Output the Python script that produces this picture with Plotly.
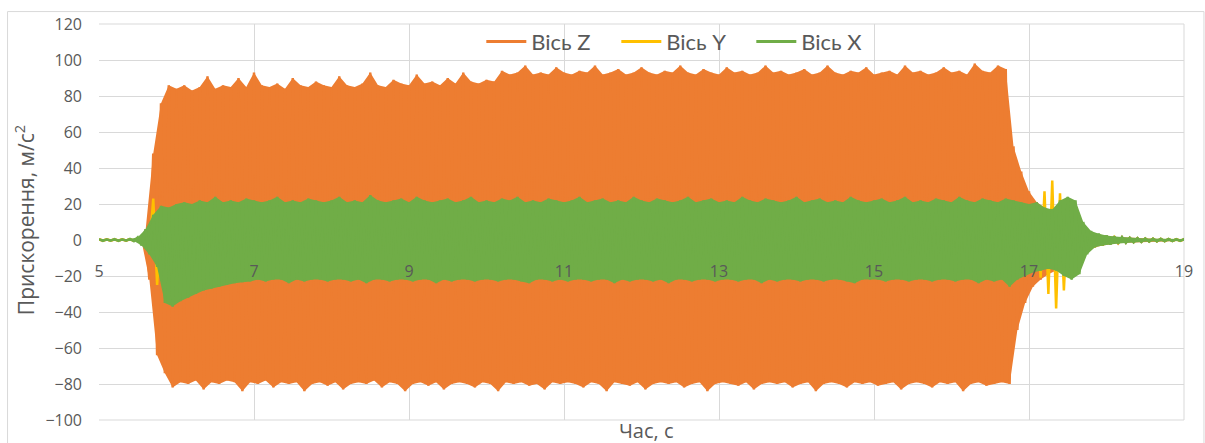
import numpy as np
import plotly.graph_objects as go

# Peak times of the vibration record, s (maxima every 0.1 s, minima half a cycle later)
t_max = np.round(np.linspace(5.0, 19.0, 141), 2)
t_min = np.round(t_max + 0.05, 2)

# Axis Z (orange): positive and negative peak accelerations, m/s^2
z_upper = [
    0.3, 0.3, 0.2, 0.3, 0.4, 0.6, 5, 48, 76, 86,
    84, 86, 83, 85, 91, 84, 86, 85, 90, 85,
    93, 86, 85, 87, 84, 90, 86, 85, 88, 86,
    85, 91, 86, 85, 87, 93, 86, 85, 89, 87,
    86, 92, 87, 88, 86, 90, 87, 93, 88, 87,
    89, 88, 94, 92, 93, 97, 92, 93, 92, 96,
    93, 92, 94, 93, 97, 92, 93, 95, 92, 93,
    96, 93, 92, 94, 93, 97, 93, 92, 95, 93,
    92, 96, 93, 94, 92, 93, 97, 93, 94, 92,
    93, 95, 92, 93, 97, 93, 92, 94, 93, 96,
    92, 93, 94, 92, 97, 93, 94, 92, 93, 96,
    93, 94, 92, 98, 94, 93, 97, 95, 52, 38,
    27, 21, 18, 16, 15, 15, 14, 8, 4, 3,
    2.2, 1.8, 1.5, 1.2, 1.0, 0.8, 0.7, 0.6, 0.5, 0.4,
    0.3,
]
z_lower = [
    -0.3, -0.3, -0.3, -0.2, -0.4, -0.8, -22, -64, -74, -82,
    -79, -80, -78, -83, -79, -80, -78, -79, -84, -79,
    -80, -78, -82, -79, -80, -79, -84, -80, -79, -81,
    -79, -83, -80, -79, -80, -78, -82, -79, -80, -84,
    -80, -79, -81, -79, -83, -80, -79, -80, -82, -79,
    -80, -84, -79, -80, -79, -81, -80, -83, -79, -80,
    -79, -80, -82, -79, -80, -84, -79, -80, -81, -79,
    -83, -80, -79, -80, -79, -82, -80, -79, -84, -80,
    -79, -80, -81, -79, -83, -80, -79, -80, -79, -82,
    -80, -79, -84, -80, -79, -80, -82, -79, -80, -79,
    -81, -80, -79, -83, -80, -79, -80, -82, -79, -80,
    -79, -84, -80, -79, -81, -80, -79, -80, -50, -35,
    -26, -22, -19, -17, -16, -15, -13, -7, -4, -3,
    -2.2, -1.8, -1.5, -1.2, -1.0, -0.8, -0.7, -0.6, -0.5, -0.4,
    -0.3,
]

# Axis Y (yellow)
y_upper = [
    0.3, 0.3, 0.3, 0.3, 0.4, 1, 5, 23, 13, 12,
    13, 11, 14, 12, 13, 11, 14, 12, 13, 12,
    14, 12, 13, 11, 14, 12, 13, 12, 14, 11,
    13, 12, 14, 11, 13, 12, 14, 12, 13, 11,
    13, 14, 12, 13, 11, 14, 12, 13, 12, 14,
    12, 13, 11, 14, 12, 13, 12, 14, 11, 13,
    14, 12, 13, 11, 14, 12, 13, 12, 14, 12,
    13, 11, 14, 12, 13, 12, 14, 11, 13, 12,
    14, 12, 13, 11, 14, 12, 13, 12, 14, 11,
    13, 12, 14, 12, 13, 11, 14, 12, 13, 12,
    14, 11, 13, 12, 14, 12, 13, 11, 14, 12,
    13, 12, 14, 11, 13, 12, 14, 13, 14, 14,
    14, 19, 27, 33, 26, 17, 11, 7, 4, 3,
    2, 1.6, 1.3, 1.1, 0.9, 0.8, 0.7, 0.6, 0.5, 0.4,
    0.3,
]
y_lower = [
    -0.3, -0.3, -0.3, -0.3, -0.4, -1, -6, -25, -14, -13,
    -12, -14, -11, -13, -12, -14, -11, -13, -12, -13,
    -11, -14, -12, -13, -12, -14, -11, -13, -12, -14,
    -12, -13, -11, -14, -12, -13, -12, -14, -11, -13,
    -14, -12, -13, -11, -14, -12, -13, -12, -14, -11,
    -13, -12, -14, -12, -13, -11, -14, -12, -13, -12,
    -12, -14, -11, -13, -12, -14, -12, -13, -11, -14,
    -13, -12, -14, -11, -13, -12, -14, -12, -13, -11,
    -12, -14, -11, -13, -12, -13, -11, -14, -12, -13,
    -14, -11, -13, -12, -14, -12, -13, -11, -13, -12,
    -12, -13, -11, -14, -12, -13, -12, -14, -11, -13,
    -13, -11, -14, -12, -13, -12, -14, -12, -14, -14,
    -14, -21, -30, -38, -28, -16, -10, -6, -4, -3,
    -2, -1.6, -1.3, -1.1, -0.9, -0.8, -0.7, -0.6, -0.5, -0.4,
    -0.3,
]

# Axis X (green)
x_upper = [
    0.5, 0.4, 0.5, 0.4, 0.6, 1.5, 6, 14, 19, 18,
    20, 21, 20, 22, 21, 24, 21, 22, 21, 23,
    22, 21, 22, 24, 21, 22, 21, 23, 22, 21,
    22, 24, 21, 22, 21, 25, 22, 21, 22, 23,
    21, 24, 22, 21, 22, 23, 21, 22, 24, 21,
    22, 21, 23, 22, 24, 21, 22, 21, 23, 22,
    21, 22, 24, 21, 22, 23, 21, 22, 21, 24,
    22, 21, 23, 22, 21, 22, 24, 21, 22, 23,
    21, 22, 21, 24, 22, 21, 23, 22, 21, 22,
    24, 21, 22, 23, 21, 22, 21, 24, 22, 21,
    22, 23, 21, 22, 24, 21, 22, 21, 23, 22,
    21, 24, 22, 21, 23, 22, 21, 23, 22, 21,
    20, 21, 18, 17, 22, 24, 22, 10, 5, 3.5,
    2.5, 2, 1.6, 1.3, 1.1, 0.9, 0.8, 0.7, 0.6, 0.5,
    0.5,
]
x_lower = [
    -0.5, -0.4, -0.5, -0.4, -0.6, -3, -8, -15, -35, -37,
    -34, -32, -30, -28, -27, -26, -25, -24, -23.5, -23,
    -22, -23, -22, -22, -24, -22, -23, -22, -22, -23,
    -22, -22, -23, -22, -24, -22, -22, -23, -22, -22,
    -23, -22, -22, -24, -22, -23, -22, -22, -23, -22,
    -22, -23, -22, -22, -23, -24, -22, -22, -23, -22,
    -23, -22, -22, -23, -22, -22, -24, -22, -23, -22,
    -22, -23, -22, -24, -22, -22, -23, -22, -22, -23,
    -22, -22, -23, -22, -22, -24, -22, -23, -22, -22,
    -23, -22, -22, -23, -22, -22, -23, -24, -22, -22,
    -22, -23, -22, -22, -23, -22, -22, -23, -22, -22,
    -23, -22, -22, -24, -22, -23, -22, -26, -22, -20,
    -18, -17, -16, -17, -20, -22, -19, -8, -4, -3,
    -2.5, -2, -1.6, -1.3, -1.1, -0.9, -0.8, -0.7, -0.6, -0.5,
    -0.5,
]

# (name, colour, maxima, minima, draw the dense body as a filled band)
series = [
    ("Вісь Z", "#ED7D31", z_upper, z_lower, True),
    ("Вісь Y", "#FFC000", y_upper, y_lower, False),
    ("Вісь X", "#70AD47", x_upper, x_lower, True),
]

fig = go.Figure()
for name, color, upper, lower, solid in series:
    upper = np.asarray(upper, dtype=float)
    lower = np.asarray(lower, dtype=float)
    if solid:
        # dense oscillation between its peaks reads as a solid band
        fig.add_trace(go.Scatter(
            x=np.concatenate([t_max, t_min[::-1]]),
            y=np.concatenate([upper, lower[::-1]]),
            mode="lines", fill="toself", fillcolor=color,
            line=dict(width=0, color=color),
            hoverinfo="skip", showlegend=False,
        ))
    # the oscillating trace itself, alternating maxima and minima
    xs = np.empty(2 * len(t_max))
    ys = np.empty(2 * len(t_max))
    xs[0::2], xs[1::2] = t_max, t_min
    ys[0::2], ys[1::2] = upper, lower
    fig.add_trace(go.Scatter(
        x=xs, y=ys, mode="lines", name=name, legendgroup=name,
        line=dict(color=color, width=2.5), showlegend=False,
    ))
    # legend key
    fig.add_trace(go.Scatter(
        x=[None], y=[None], mode="lines", name=name, legendgroup=name,
        line=dict(color=color, width=3),
    ))

grid = "#D9D9D9"
tick_font = dict(family="Open Sans", size=16, color="#595959")
title_font = dict(family="Open Sans", size=20, color="#595959")

fig.update_layout(
    width=1205, height=443,
    margin=dict(l=99, r=21, t=24, b=21),
    paper_bgcolor="white", plot_bgcolor="white",
    showlegend=True,
    legend=dict(
        orientation="h", x=0.539, y=0.955, xanchor="center", yanchor="middle",
        font=dict(family="Lato", size=22, color="#595959"),
        bgcolor="rgba(0,0,0,0)", itemwidth=40,
        entrywidth=80, entrywidthmode="pixels",
    ),
    xaxis=dict(
        range=[5, 19], tick0=5, dtick=2, showgrid=True, gridcolor=grid,
        gridwidth=1, zeroline=False, showline=False,
        anchor="free", position=100 / 220,
        ticks="", ticklabelstandoff=20, tickfont=tick_font,
    ),
    yaxis=dict(
        range=[-100, 120], dtick=20, showgrid=True, gridcolor=grid,
        gridwidth=1, zeroline=False, showline=False,
        ticks="", ticklabelstandoff=16, tickfont=tick_font,
    ),
    shapes=[
        dict(type="rect", xref="paper", yref="paper",
             x0=-0.0843, x1=1.0184, y0=-0.06, y1=1.0314,
             line=dict(color=grid, width=1), layer="below"),
        dict(type="line", xref="paper", yref="paper",
             x0=0, x1=1, y0=0, y1=0, line=dict(color=grid, width=1),
             layer="below"),
        dict(type="line", xref="paper", yref="paper",
             x0=1, x1=1, y0=0, y1=1, line=dict(color=grid, width=1),
             layer="below"),
        dict(type="line", xref="paper", yref="paper",
             x0=0, x1=1, y0=1, y1=1, line=dict(color=grid, width=1),
             layer="below"),
    ],
    annotations=[
        dict(text="Час, с", xref="paper", yref="paper", x=0.505, y=-0.026,
             xanchor="center", yanchor="middle", showarrow=False,
             font=title_font),
        dict(text="Прискорення, м/с<sup>2</sup>", xref="paper", yref="paper",
             x=-0.069, y=0.505, xanchor="center", yanchor="middle",
             textangle=-90, showarrow=False, font=dict(title_font, size=21)),
    ],
)

fig.write_html("out.html")
